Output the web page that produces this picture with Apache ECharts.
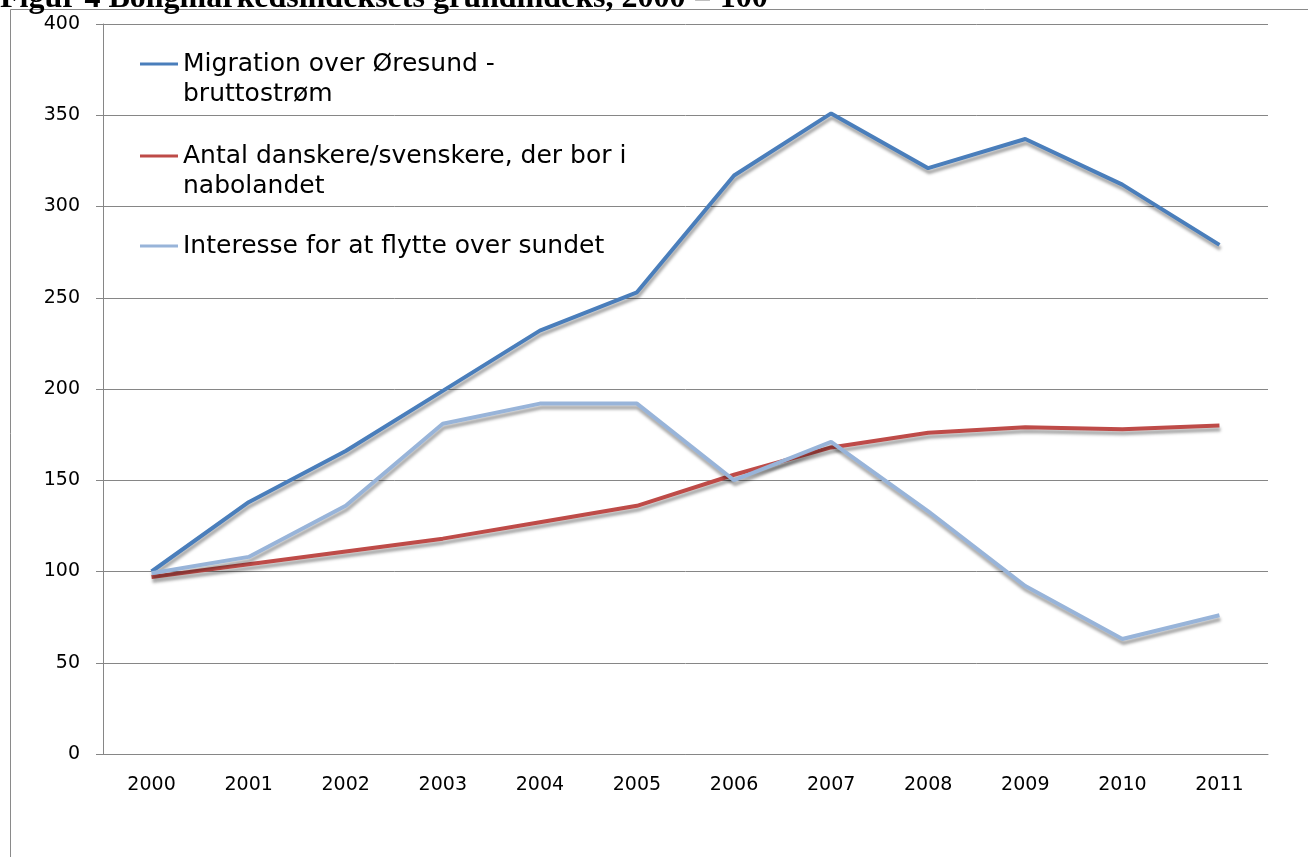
<!DOCTYPE html>
<html>
<head>
<meta charset="utf-8">
<script src="https://cdn.jsdelivr.net/npm/echarts@6/dist/echarts.min.js"></script>
<style>
  html, body { margin: 0; padding: 0; background: #fff; }
  #chart { width: 1308px; height: 857px; }
</style>
</head>
<body>
<div id="chart"></div>
<script>
// data (index, 2000 = 100)
var years = ['2000', '2001', '2002', '2003', '2004', '2005', '2006', '2007', '2008', '2009', '2010', '2011']
var migration = [100, 138, 166, 199, 232, 253, 317, 351, 321, 337, 312, 279]
var residents = [97, 104, 111, 118, 127, 136, 153, 168, 176, 179, 178, 180]
var interest = [99, 108, 136, 181, 192, 192, 150, 171, 133, 92, 63, 76]

var nameMigration = 'Migration over Øresund -\nbruttostrøm'
var nameResidents = 'Antal danskere/svenskere, der bor i\nnabolandet'
var nameInterest = 'Interesse for at flytte over sundet'

var font = 'DejaVu Sans, Verdana, sans-serif'

function lineSeries (name, data, color) {
  return {
    name: name,
    type: 'line',
    data: data,
    symbol: 'none',
    lineStyle: {
      color: color,
      width: 4,
      shadowColor: 'rgba(0, 0, 0, 0.35)',
      shadowBlur: 3,
      shadowOffsetX: 1,
      shadowOffsetY: 4
    },
    itemStyle: { color: color }
  }
}

// one legend per entry so each can sit where it does in the figure;
// two-line names get an empty first line so the icon lines up with the first text line
function legendBox (name, top, twoLines) {
  return {
    top: top,
    left: 140,
    padding: 0,
    icon: 'rect',
    itemWidth: 38,
    itemHeight: 3,
    itemGap: 0,
    selectedMode: false,
    data: [name],
    formatter: function (n) { return twoLines ? ' \n' + n : n },
    textStyle: {
      fontFamily: font,
      fontSize: 25,
      color: '#000',
      lineHeight: 30
    }
  }
}

var chart = echarts.init(document.getElementById('chart'))
chart.setOption({
  animation: false,
  title: {
    text: 'Figur 4 Boligmarkedsindeksets grundindeks, 2000 = 100',
    left: 0,
    top: -17,
    padding: 0,
    textStyle: {
      fontFamily: 'Liberation Serif, Times New Roman, serif',
      fontWeight: 'bold',
      fontSize: 32,
      color: '#000'
    }
  },
  graphic: [{
    type: 'rect',
    z: -1,
    shape: { x: 10.5, y: 9.5, width: 1400, height: 900 },
    style: { fill: 'none', stroke: '#8a8a8a', lineWidth: 1 }
  }],
  legend: [
    legendBox(nameMigration, 19, true),
    legendBox(nameResidents, 111, true),
    legendBox(nameInterest, 231, false)
  ],
  grid: { left: 103, right: 40, top: 24, bottom: 103 },
  xAxis: {
    type: 'category',
    data: years,
    boundaryGap: true,
    axisLine: { lineStyle: { color: '#868686', width: 1 } },
    axisTick: { length: 8, lineStyle: { color: '#868686' } },
    axisLabel: { fontFamily: font, fontSize: 19, color: '#000', margin: 22 }
  },
  yAxis: {
    type: 'value',
    min: 0,
    max: 400,
    interval: 50,
    axisLine: { show: true, lineStyle: { color: '#868686', width: 1 } },
    axisTick: { show: true, length: 7, lineStyle: { color: '#868686' } },
    axisLabel: { fontFamily: font, fontSize: 19, color: '#000', margin: 23 },
    splitLine: { lineStyle: { color: '#868686', width: 1 } }
  },
  series: [
    lineSeries(nameMigration, migration, '#4a7ebb'),
    lineSeries(nameResidents, residents, '#be4b48'),
    lineSeries(nameInterest, interest, '#98b4d9')
  ]
})
</script>
</body>
</html>
